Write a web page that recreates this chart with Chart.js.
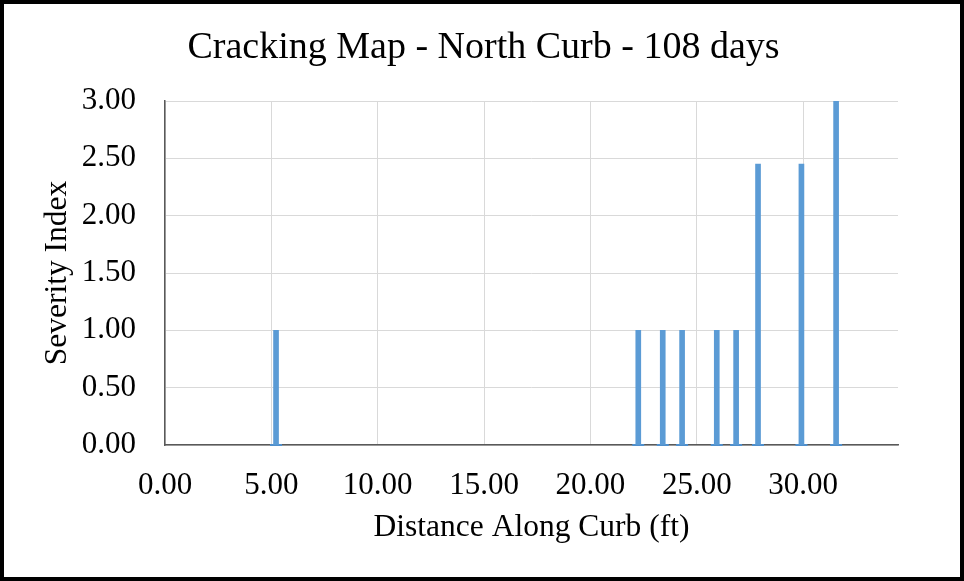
<!DOCTYPE html>
<html>
<head>
<meta charset="utf-8">
<script src="https://cdn.jsdelivr.net/npm/chart.js@4.4.1/dist/chart.umd.min.js"></script>
<style>
  html, body { margin: 0; padding: 0; background: #fff; }
  #frame {
    width: 964px; height: 581px; box-sizing: border-box;
    border: 4px solid #000; background: #fff;
  }
  #chart { display: block; }
</style>
</head>
<body>
<div id="frame"><canvas id="chart" width="956" height="573"></canvas></div>
<script>
// crack positions along the curb (ft) and severity index
const distances = [5.22, 22.25, 23.40, 24.31, 25.94, 26.85, 27.88, 29.92, 31.55];
const severity = [1.00, 1.00, 1.00, 1.00, 1.00, 1.00, 2.45, 2.45, 3.00];

const xTicks = [0, 5, 10, 15, 20, 25, 30];
const yTicks = [0, 0.5, 1, 1.5, 2, 2.5, 3];

const serif = "'Liberation Serif', 'Times New Roman', serif";
const blue = '#5b9bd5';

// center the title over the whole frame, not just the padded area
const centerTitle = {
  id: 'centerTitle',
  afterLayout(chart) {
    if (chart.titleBlock) {
      chart.titleBlock.left = 3;
      chart.titleBlock.right = chart.width;
    }
  }
};

const ctx = document.getElementById('chart').getContext('2d');
new Chart(ctx, {
  type: 'bar',
  data: {
    datasets: [
      {
        label: 'Severity',
        data: distances.map((d, i) => ({ x: d, y: severity[i] })),
        backgroundColor: blue,
        barThickness: 5,
        borderWidth: 0
      },
      {
        type: 'scatter',
        label: 'base',
        data: distances.map(d => ({ x: d, y: 0 })),
        pointStyle: 'line',
        radius: 6,
        borderWidth: 2,
        borderColor: '#4f8fcc',
        clip: false
      }
    ]
  },
  plugins: [centerTitle],
  options: {
    responsive: false,
    animation: false,
    layout: { padding: { left: 31, right: 62, top: 0, bottom: 26 } },
    plugins: {
      legend: { display: false },
      tooltip: { enabled: false },
      title: {
        display: true,
        text: 'Cracking Map - North Curb - 108 days',
        color: '#000',
        font: { family: serif, size: 38, weight: 'normal' },
        padding: { top: 21, bottom: 30.4 }
      }
    },
    scales: {
      x: {
        type: 'linear',
        offset: false,
        min: 0,
        max: 34.46,
        afterFit: s => { s.height = 106; },
        afterBuildTicks: s => { s.ticks = xTicks.map(v => ({ value: v })); },
        grid: { color: '#d9d9d9', lineWidth: 1, drawTicks: false, offset: false },
        border: { color: '#595959', width: 1.5 },
        ticks: {
          color: '#000',
          padding: 22,
          maxRotation: 0,
          font: { family: serif, size: 31 },
          callback: v => Number(v).toFixed(2)
        },
        title: {
          display: true,
          text: 'Distance Along Curb (ft)',
          color: '#000',
          font: { family: serif, size: 31.5 },
          padding: { top: 4, bottom: 4 }
        }
      },
      y: {
        min: 0,
        max: 3,
        afterFit: s => { s.width = 130; },
        afterBuildTicks: s => { s.ticks = yTicks.map(v => ({ value: v })); },
        grid: { color: '#d9d9d9', lineWidth: 1, drawTicks: false },
        border: { color: '#595959', width: 1.5 },
        ticks: {
          color: '#000',
          padding: 29,
          font: { family: serif, size: 31 },
          callback: v => Number(v).toFixed(2)
        },
        title: {
          display: true,
          text: 'Severity Index',
          color: '#000',
          font: { family: serif, size: 31.5 },
          padding: { top: 4, bottom: 4 }
        }
      }
    }
  }
});
</script>
</body>
</html>
